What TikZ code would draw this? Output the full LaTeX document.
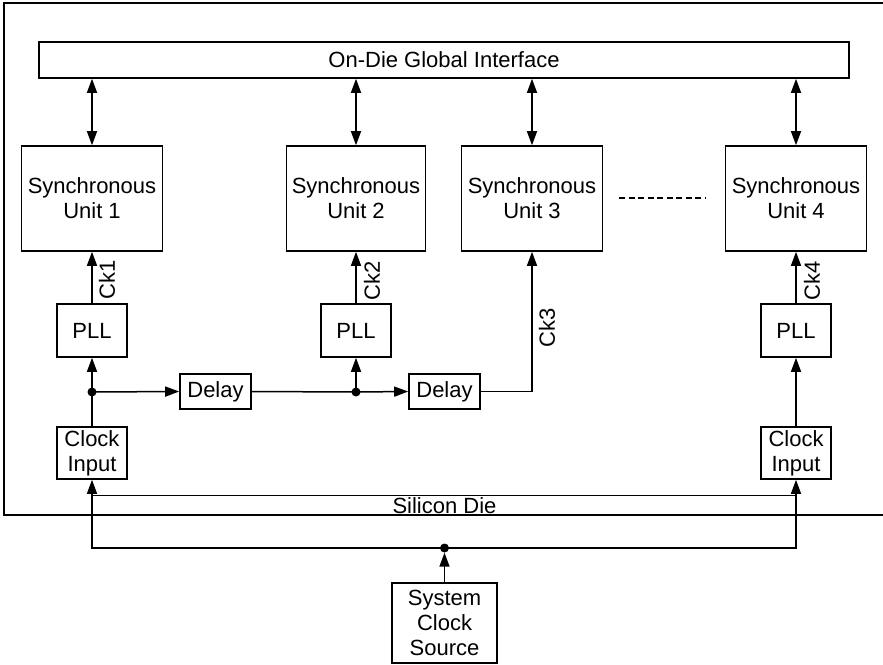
\documentclass[tikz,border=0pt]{standalone}
\usepackage{fontspec}
\setmainfont{Liberation Sans}
\usetikzlibrary{arrows.meta,calc}
\begin{document}
\begin{tikzpicture}[x=1pt,y=-1pt,
  every node/.style={font=\fontsize{22}{25}\selectfont, inner sep=0pt},
  blk/.style={draw, line width=1.6pt, align=center},
  wire/.style={line width=1.5pt},
  arr/.style={wire, -{Triangle[length=14pt,width=10pt]}},
  darr/.style={wire, {Triangle[length=14pt,width=10pt]}-{Triangle[length=14pt,width=10pt]}},
  dot/.style={circle, fill, minimum size=9pt, inner sep=0pt},
  lbl/.style={rotate=90}]
\useasboundingbox (0,0) rectangle (883,664);
% silicon die outline (open at right)
\draw[line width=1.6pt] (883,3) -- (4,3) -- (4,515) -- (883,515);
% global interface
\node[blk, minimum width=810pt, minimum height=36pt] (iface) at (444,60) {On-Die Global Interface};
% synchronous units
\node[blk, minimum width=141pt, minimum height=105pt] (u1) at (92,198.5) {Synchronous\\Unit 1};
\node[blk, minimum width=139pt, minimum height=105pt] (u2) at (356,198.5) {Synchronous\\Unit 2};
\node[blk, minimum width=141pt, minimum height=105pt] (u3) at (532,198.5) {Synchronous\\Unit 3};
\node[blk, minimum width=141pt, minimum height=105pt] (u4) at (796,198.5) {Synchronous\\Unit 4};
% dashed ellipsis
\coordinate (ds) at (619,198);
\coordinate (de) at (705,198);
\draw[line width=1.8pt, dash pattern=on 6pt off 3.5pt] (ds) -- (de);
% PLLs
\node[blk, minimum width=70pt, minimum height=53pt] (p1) at (92,330.5) {PLL};
\node[blk, minimum width=70pt, minimum height=53pt] (p2) at (356,330.5) {PLL};
\node[blk, minimum width=70pt, minimum height=53pt] (p4) at (796,330.5) {PLL};
% delays
\node[blk, minimum width=71pt, minimum height=35pt] (d1) at (215.5,391.5) {Delay};
\node[blk, minimum width=71pt, minimum height=35pt] (d2) at (444.5,391.5) {Delay};
% clock inputs
\node[blk, minimum width=70pt, minimum height=52pt] (c1) at (92,453) {Clock\\Input};
\node[blk, minimum width=70pt, minimum height=52pt] (c4) at (796,453) {Clock\\Input};
% system clock source
\node[blk, minimum width=105pt, minimum height=80pt] (sys) at (444.5,623) {System\\Clock\\Source};
% junctions
\node[dot] (j1) at (92,392) {};
\node[dot] (j2) at (356,392) {};
\node[dot] (j3) at (444.5,548) {};
% interface links
\foreach \u in {u1,u2,u3,u4}
  \draw[darr] (iface.south -| \u.north) -- (\u.north);
% clocks to units
\draw[arr] (p1.north) -- (u1.south);
\draw[arr] (p2.north) -- (u2.south);
\draw[arr] (p4.north) -- (u4.south);
\draw[arr] (d2.east) -| (u3.south);
% labels
\node[lbl] (ck1) at (107,280) {Ck1};
\node[lbl] (ck2) at (372,281) {Ck2};
\node[lbl] (ck3) at (547,328) {Ck3};
\node[lbl] (ck4) at (812,281) {Ck4};
% distribution
\draw[wire] (c1.north) -- (j1.center);
\draw[arr] (j1.center) -- (p1.south);
\draw[arr] (j1.center) -- (d1.west);
\draw[wire] (d1.east) -- (j2.center);
\draw[arr] (j2.center) -- (p2.south);
\draw[arr] (j2.center) -- (d2.west);
\draw[arr] (c4.north) -- (p4.south);
% external clock
\draw[arr] (sys.north) -- (j3.south);
\draw[arr] (j3.center) -| (c1.south);
\draw[arr] (j3.center) -| (c4.south);
\coordinate (ul) at (92,495.5);
\coordinate (ur) at (796,495.5);
\draw[wire] (ul) -- (ur);
\node (sd) at (444.5,505.5) {Silicon Die};
\end{tikzpicture}
\end{document}
